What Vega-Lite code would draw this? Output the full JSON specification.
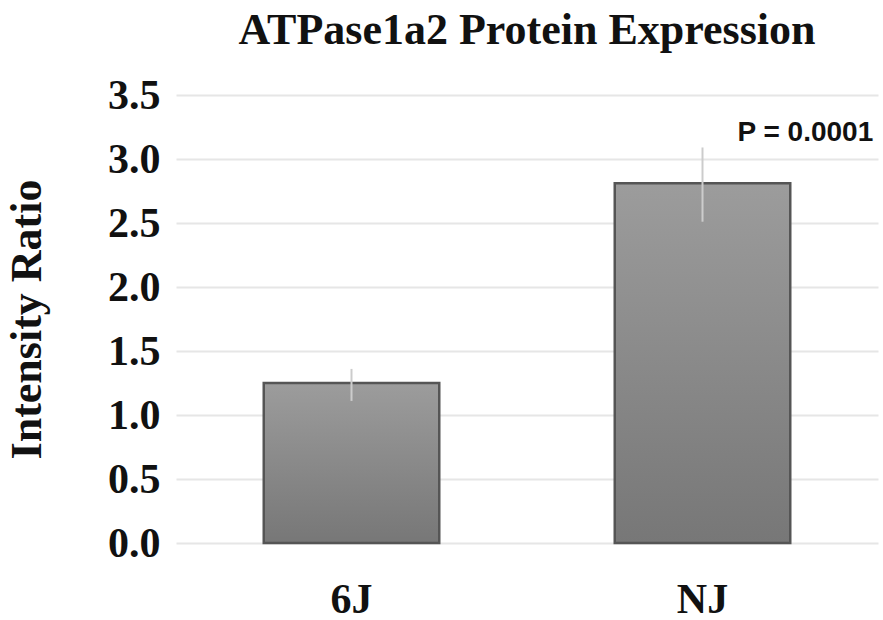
{
  "$schema": "https://vega.github.io/schema/vega-lite/v6.json",
  "autosize": "none",
  "width": 702,
  "height": 448,
  "padding": {"left": 176, "top": 95, "right": 5, "bottom": 77},
  "background": "white",
  "title": {
    "text": "ATPase1a2 Protein  Expression",
    "font": "Liberation Serif",
    "fontWeight": "bold",
    "fontSize": 44,
    "color": "#111111",
    "anchor": "middle",
    "offset": 21
  },
  "data": {
    "values": [
      {"group": "6J", "mean": 1.25, "lower": 1.11, "upper": 1.36, "label": ""},
      {"group": "NJ", "mean": 2.81, "lower": 2.51, "upper": 3.09, "label": "P = 0.0001"}
    ]
  },
  "config": {
    "view": {"stroke": null},
    "axis": {
      "labelFont": "Liberation Serif",
      "labelFontWeight": "bold",
      "labelColor": "#111111",
      "titleFont": "Liberation Serif",
      "titleFontWeight": "bold",
      "titleColor": "#111111"
    }
  },
  "encoding": {
    "x": {
      "field": "group",
      "type": "nominal",
      "sort": ["6J", "NJ"],
      "scale": {"paddingInner": 0.5, "paddingOuter": 0.25},
      "axis": {
        "title": null,
        "labelAngle": 0,
        "labelFontSize": 42,
        "ticks": false,
        "domain": false,
        "labelPadding": 36,
        "labelBaseline": "top"
      }
    }
  },
  "layer": [
    {
      "mark": {
        "type": "bar",
        "color": {
          "gradient": "linear",
          "x1": 0, "y1": 0, "x2": 0, "y2": 1,
          "stops": [
            {"offset": 0, "color": "#9c9c9c"},
            {"offset": 1, "color": "#777777"}
          ]
        },
        "stroke": "#555555",
        "strokeWidth": 2.5
      },
      "encoding": {
        "y": {
          "field": "mean",
          "type": "quantitative",
          "scale": {"domain": [0, 3.5]},
          "axis": {
            "title": "Intensity Ratio",
            "titleFontSize": 44,
            "titlePadding": 58,
            "values": [0, 0.5, 1, 1.5, 2, 2.5, 3, 3.5],
            "format": ".1f",
            "labelFontSize": 42,
            "labelPadding": 16,
            "ticks": false,
            "domain": false,
            "grid": true,
            "gridColor": "#e6e6e6",
            "gridWidth": 2
          }
        }
      }
    },
    {
      "mark": {"type": "rule", "color": "#cccccc", "strokeWidth": 2},
      "encoding": {
        "y": {"field": "lower", "type": "quantitative"},
        "y2": {"field": "upper"}
      }
    },
    {
      "mark": {
        "type": "text",
        "font": "Liberation Sans",
        "fontWeight": "bold",
        "fontSize": 28,
        "align": "left",
        "baseline": "alphabetic",
        "dx": 35,
        "dy": -6,
        "color": "#111111"
      },
      "encoding": {
        "y": {"field": "upper", "type": "quantitative"},
        "text": {"field": "label"}
      }
    }
  ]
}
